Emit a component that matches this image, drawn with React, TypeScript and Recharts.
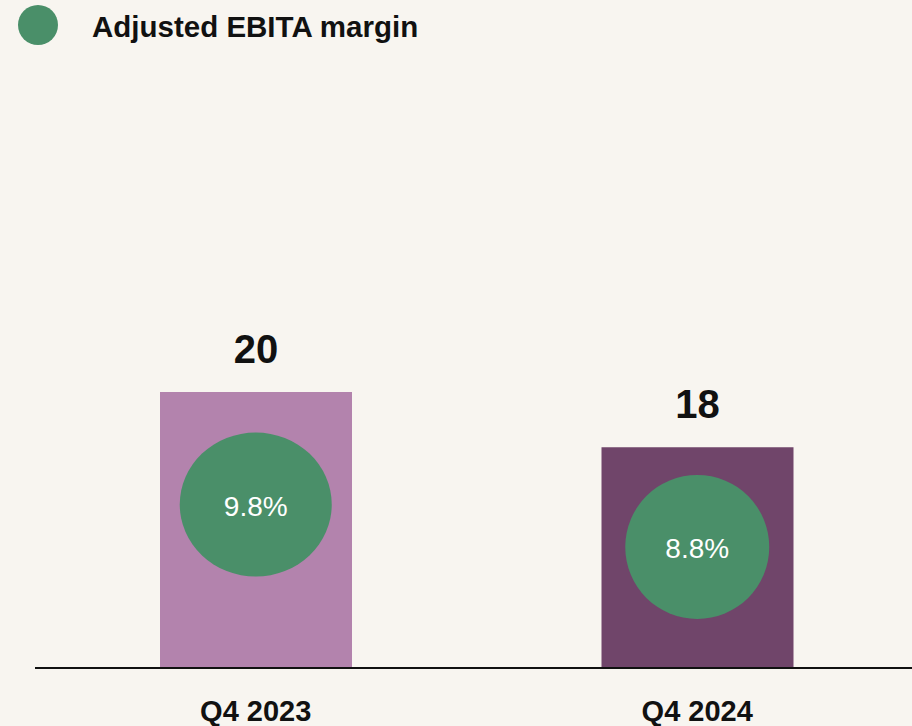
import React from "react";
import {
  ComposedChart, Bar, Scatter, XAxis, YAxis, LabelList, Legend, Cell,
} from "recharts";

// Adjusted EBITA (bars) and adjusted EBITA margin (green bubbles), Q4 vs Q4
const PERIODS = ["Q4 2023", "Q4 2024"];
const EBITA = [20, 18];
const MARGIN = [9.8, 8.8];
const MARGIN_LABELS = ["9.8%", "8.8%"];

const BG = "#f8f5f0";
const GREEN = "#4a8f69";
const BAR_COLORS = ["#b383ad", "#70456a"];
const BUBBLE_RX = [76, 72];
const BUBBLE_RY = 72;

const SANS = "'Liberation Sans', Arial, sans-serif";

const DATA = PERIODS.map((p, i) => ({
  period: p,
  ebita: EBITA[i],
  margin: MARGIN[i],
  marginLabel: MARGIN_LABELS[i],
  idx: i,
}));

function Bubble(props: any) {
  const { cx, cy, payload } = props;
  if (cx == null || cy == null) return null;
  const rx = BUBBLE_RX[payload.idx] ?? 72;
  return (
    <g>
      <ellipse cx={cx} cy={cy} rx={rx} ry={BUBBLE_RY} fill={GREEN} />
      <text
        x={cx}
        y={cy + 2}
        textAnchor="middle"
        dominantBaseline="central"
        fill="#ffffff"
        fontFamily={SANS}
        fontSize={28}
      >
        {payload.marginLabel}
      </text>
    </g>
  );
}

function LegendBox() {
  return (
    <svg width={912} height={52} style={{ display: "block" }}>
      <circle cx={38} cy={25} r={20} fill={GREEN} />
      <text x={92} y={37} fontFamily={SANS} fontWeight={700} fontSize={29.5} fill="#111">
        Adjusted EBITA margin
      </text>
    </svg>
  );
}

export default function App() {
  return (
    <div style={{ position: "absolute", top: 0, left: 0, width: 912, height: 726, background: BG }}>
      <ComposedChart
        width={912}
        height={726}
        data={DATA}
        margin={{ top: 64, right: -6, bottom: 0, left: 35 }}
      >
        <Legend
          verticalAlign="top"
          align="left"
          content={() => <LegendBox />}
          wrapperStyle={{ top: 0, left: 0, width: 912, height: 52 }}
        />
        <XAxis
          dataKey="period"
          axisLine={{ stroke: "#111", strokeWidth: 2 }}
          tickLine={false}
          tickSize={0}
          tickMargin={32}
          height={58}
          tick={{ fontFamily: SANS, fontWeight: 700, fontSize: 29, fill: "#111" }}
        />
        <YAxis yAxisId="e" hide domain={[10, 30]} />
        <YAxis yAxisId="m" hide domain={[5.95, 18.95]} orientation="right" />
        <Bar yAxisId="e" dataKey="ebita" barSize={192} isAnimationActive={false}>
          {DATA.map((d, i) => (
            <Cell key={d.period} fill={BAR_COLORS[i]} />
          ))}
          <LabelList
            dataKey="ebita"
            position="top"
            offset={29}
            fill="#111"
            fontFamily={SANS}
            fontWeight={700}
            fontSize={40}
          />
        </Bar>
        <Scatter
          yAxisId="m"
          dataKey="margin"
          shape={Bubble}
          isAnimationActive={false}
        />
      </ComposedChart>
    </div>
  );
}
